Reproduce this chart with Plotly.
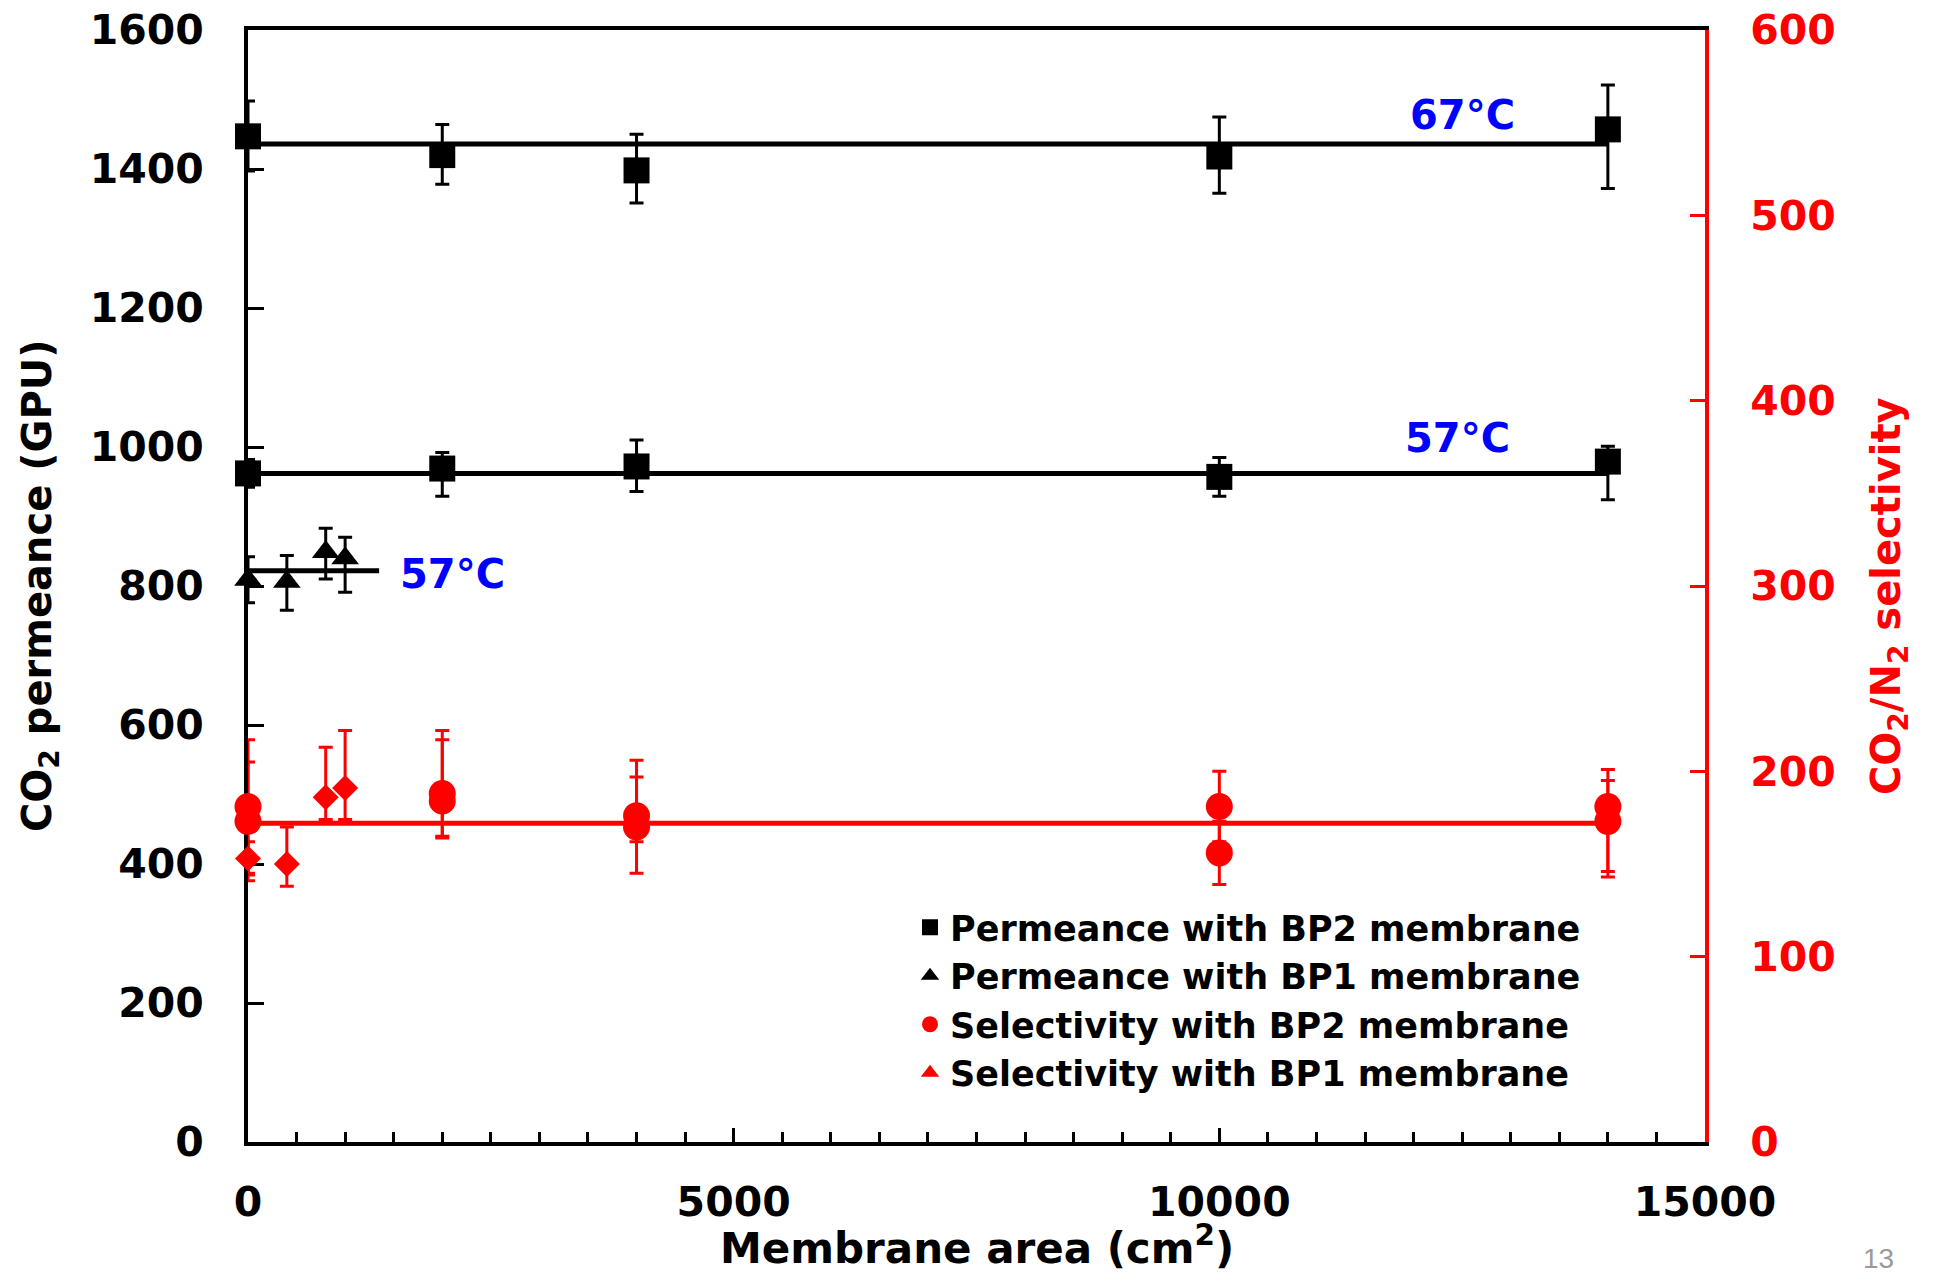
import plotly.graph_objects as go

# ---------------- data ----------------
area_bp2 = [0, 2000, 4000, 10000, 14000]
area_bp1 = [0, 400, 800, 1000]

perm_bp2_67 = [1447, 1420, 1398, 1418, 1457]
perm_bp2_67_ep = [51, 44, 52, 57, 64]
perm_bp2_67_em = [50, 42, 47, 53, 85]

perm_bp2_57 = [962, 969, 972, 957, 979]
perm_bp2_57_ep = [20, 23, 38, 28, 22]
perm_bp2_57_em = [20, 40, 36, 28, 55]

perm_bp1_57 = [809, 806, 849, 840]
perm_bp1_57_ep = [33, 38, 34, 30]
perm_bp1_57_em = [33, 41, 39, 49]

sel_bp2_a = [181, 188, 176, 181, 181]
sel_bp2_a_ep = [36, 34, 30, 19, 20]
sel_bp2_a_em = [36, 23, 31, 19, 35]

sel_bp2_b = [173, 184, 170, 156, 173]
sel_bp2_b_ep = [32, 33, 27, 17, 22]
sel_bp2_b_em = [32, 20, 8, 17, 30]

sel_bp1 = [153, 150, 186, 191]
sel_bp1_ep = [9, 20, 27, 31]
sel_bp1_em = [9, 12, 12, 17]

# horizontal guide levels and their extents
fit_perm_67 = 1436
fit_perm_57 = 962
fit_perm_bp1 = 822
fit_sel = 172
fit_x_long = [0, 14000]
fit_x_bp1 = [0, 1350]

x_ticks = [0, 5000, 10000, 15000]
legend_names = ["Permeance with BP2 membrane", "Permeance with BP1 membrane",
                "Selectivity with BP2 membrane", "Selectivity with BP1 membrane"]
temp_labels = ["67°C", "57°C", "57°C"]
temp_label_x = [12500, 12450, 2110]
temp_label_y = [1478, 1013, 817]

BLACK = "#000000"
RED = "#ff0000"
BLUE = "#0000ff"
FONT = "DejaVu Sans"

fig = go.Figure()

# guide lines
for xs, lvl in [(fit_x_long, fit_perm_67), (fit_x_long, fit_perm_57), (fit_x_bp1, fit_perm_bp1)]:
    fig.add_trace(go.Scatter(x=xs, y=[lvl] * len(xs), mode="lines",
                             line=dict(color=BLACK, width=5), showlegend=False,
                             hoverinfo="skip", cliponaxis=False))
fig.add_trace(go.Scatter(x=fit_x_long, y=[fit_sel] * 2, mode="lines", yaxis="y2",
                         line=dict(color=RED, width=5), showlegend=False,
                         hoverinfo="skip", cliponaxis=False))


def err(p, m, color):
    return dict(type="data", symmetric=False, array=p, arrayminus=m,
                color=color, thickness=3, width=7)


# selectivity (right axis)
fig.add_trace(go.Scatter(x=area_bp2, y=sel_bp2_a, yaxis="y2", mode="markers",
                         name=legend_names[2], legendrank=3,
                         marker=dict(symbol="circle", size=27, color=RED),
                         error_y=err(sel_bp2_a_ep, sel_bp2_a_em, RED), cliponaxis=False))
fig.add_trace(go.Scatter(x=area_bp2, y=sel_bp2_b, yaxis="y2", mode="markers",
                         showlegend=False,
                         marker=dict(symbol="circle", size=27, color=RED),
                         error_y=err(sel_bp2_b_ep, sel_bp2_b_em, RED), cliponaxis=False))
fig.add_trace(go.Scatter(x=area_bp1, y=sel_bp1, yaxis="y2", mode="markers",
                         showlegend=False,
                         marker=dict(symbol="diamond", size=20, color=RED),
                         error_y=err(sel_bp1_ep, sel_bp1_em, RED), cliponaxis=False))
fig.add_trace(go.Scatter(x=[None], y=[None], yaxis="y2", mode="markers",
                         name=legend_names[3], legendrank=4,
                         marker=dict(symbol="triangle-up", size=22, color=RED)))

# permeance (left axis)
fig.add_trace(go.Scatter(x=area_bp2, y=perm_bp2_67, mode="markers",
                         name=legend_names[0], legendrank=1,
                         marker=dict(symbol="square", size=26, color=BLACK),
                         error_y=err(perm_bp2_67_ep, perm_bp2_67_em, BLACK), cliponaxis=False))
fig.add_trace(go.Scatter(x=area_bp2, y=perm_bp2_57, mode="markers",
                         showlegend=False,
                         marker=dict(symbol="square", size=26, color=BLACK),
                         error_y=err(perm_bp2_57_ep, perm_bp2_57_em, BLACK), cliponaxis=False))
fig.add_trace(go.Scatter(x=area_bp1, y=perm_bp1_57, mode="markers",
                         name=legend_names[1], legendrank=2,
                         marker=dict(symbol="triangle-up", size=24, color=BLACK),
                         error_y=err(perm_bp1_57_ep, perm_bp1_57_em, BLACK), cliponaxis=False))

# Page has an 8px body margin: figure origin sits at (8, 8) of the window.
OFF = 8
W, H = 1936 - 2 * OFF, 1283 - 2 * OFF
PL, PR, PT, PB = 248 - OFF, 1705 - OFF, 30 - OFF, 1142 - OFF  # plot area in figure px
pw, ph = PR - PL, PB - PT


def px(xabs):
    return (xabs - OFF - PL) / pw


def py(yabs):
    return (PB - (yabs - OFF)) / ph


annotations = []
for t, x, y in zip(temp_labels, temp_label_x, temp_label_y):
    annotations.append(dict(x=x, y=y, xref="x", yref="y", text=t, showarrow=False,
                            xanchor="center", yanchor="middle",
                            font=dict(family=FONT, size=40, color=BLUE, weight="bold")))

annotations += [
    dict(x=px(40), y=py(586), xref="paper", yref="paper", textangle=-90, showarrow=False,
         xanchor="center", yanchor="middle",
         text="CO<sub>2</sub> permeance (GPU)",
         font=dict(family=FONT, size=40, color=BLACK, weight="bold")),
    dict(x=px(1889), y=py(596), xref="paper", yref="paper", textangle=-90, showarrow=False,
         xanchor="center", yanchor="middle",
         text="CO<sub>2</sub>/N<sub>2</sub> selectivity",
         font=dict(family=FONT, size=40, color=RED, weight="bold")),
    dict(x=px(977), y=py(1274), xref="paper", yref="paper", showarrow=False,
         xanchor="center", yanchor="bottom", borderpad=0,
         text="Membrane area (cm<sup>2</sup>)",
         font=dict(family=FONT, size=42, color=BLACK, weight="bold")),
    dict(x=px(1878), y=py(1258), xref="paper", yref="paper", showarrow=False, text="13",
         xanchor="center", yanchor="middle",
         font=dict(family="Liberation Sans", size=28, color="#9a9a9a")),
]

tickfont_black = dict(family=FONT, size=41, color=BLACK, weight="bold")
tickfont_red = dict(family=FONT, size=41, color=RED, weight="bold")

fig.update_layout(
    width=W, height=H,
    margin=dict(l=PL, r=W - PR, t=PT, b=H - PB, autoexpand=False),
    paper_bgcolor="white", plot_bgcolor="white",
    showlegend=True,
    legend=dict(x=px(910), y=py(898), xanchor="left", yanchor="top",
                bgcolor="rgba(0,0,0,0)", font=dict(family=FONT, size=35, color=BLACK, weight="bold"),
                traceorder="normal", itemwidth=30, tracegroupgap=0),
    xaxis=dict(range=[0, 15000], tickvals=x_ticks, tickformat="d",
               showgrid=False, zeroline=False, showline=True, linecolor=BLACK, linewidth=4,
               mirror=True, ticks="inside", ticklen=14, tickwidth=3, tickcolor=BLACK,
               minor=dict(dtick=500, ticks="inside", ticklen=10, tickwidth=3, tickcolor=BLACK, showgrid=False),
               tickfont=tickfont_black, ticklabelstandoff=21, ticklabeloverflow="allow",
               layer="below traces"),
    yaxis=dict(range=[0, 1600], dtick=200, showgrid=False, zeroline=False, showline=True,
               linecolor=BLACK, linewidth=4, ticks="inside", ticklen=16, tickwidth=3,
               tickcolor=BLACK, tickfont=tickfont_black, ticklabelstandoff=32,
               ticklabeloverflow="allow", layer="below traces"),
    yaxis2=dict(range=[0, 600], dtick=100, overlaying="y", side="right", showgrid=False,
                zeroline=False, showline=True, linecolor=RED, linewidth=4, ticks="inside",
                ticklen=15, tickwidth=3, tickcolor=RED, tickfont=tickfont_red,
                ticklabelstandoff=33, ticklabeloverflow="allow", layer="below traces"),
    annotations=annotations,
)

fig.write_html("out.html")
